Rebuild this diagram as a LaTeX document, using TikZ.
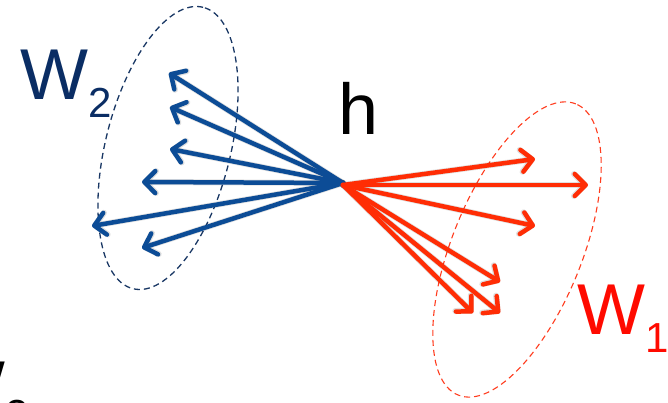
\documentclass[tikz,border=0pt]{standalone}
\usepackage{fontspec}
\setmainfont{Liberation Sans}
\usetikzlibrary{arrows.meta}
\definecolor{bluearrow}{RGB}{12,76,150}
\definecolor{bluetext}{RGB}{10,45,100}
\definecolor{blueell}{RGB}{25,55,100}
\definecolor{redarrow}{RGB}{255,45,5}
\definecolor{redtext}{RGB}{255,10,0}
\definecolor{redell}{RGB}{255,60,30}
\tikzset{
  vec/.style={line width=4.5pt, line cap=round, -{Straight Barb[length=11pt,width=22pt,round]}},
  bvec/.style={vec, draw=bluearrow},
  rvec/.style={vec, draw=redarrow},
  shadowvec/.style={vec, draw=black, opacity=0.12, line width=6pt},
  ell/.style={dashed, dash pattern=on 6pt off 4pt, line width=1.3pt},
  bigtext/.style={inner sep=0pt, font=\fontsize{72}{72}\selectfont},
}
\newcommand{\subsc}[1]{\raisebox{-18pt}{\fontsize{42}{42}\selectfont #1}}
\begin{document}
\begin{tikzpicture}[x=1pt,y=1pt]
\useasboundingbox (0,0) rectangle (668,403);
% ellipses
\draw[ell, draw=blueell, rotate around={76:(168,255)}] (168,255) ellipse [x radius=145, y radius=62.5];
\draw[ell, draw=redell, line width=1.1pt, rotate around={68:(517,153.5)}] (517,153.5) ellipse [x radius=157, y radius=65];
% origins
\coordinate (hb) at (343,220);
\coordinate (hr) at (343,218);
% blue tips
\coordinate (b1) at (169,330);
\coordinate (b2) at (170,296);
\coordinate (b3) at (170,254);
\coordinate (b4) at (142,221);
\coordinate (b5) at (92,177);
\coordinate (b6) at (142,155);
% red tips
\coordinate (r1) at (535,244);
\coordinate (r2) at (588,218);
\coordinate (r3) at (535,177);
\coordinate (r4) at (500,121);
\coordinate (r5) at (500,90);
\coordinate (r6) at (473,90);
% shadows
\begin{scope}[shift={(2,-3)}]
\foreach \t in {b1,b2,b3,b4,b5,b6} \draw[shadowvec] (hb) -- (\t);
\foreach \t in {r1,r2,r3,r4,r5,r6} \draw[shadowvec] (hr) -- (\t);
\end{scope}
% arrows
\foreach \t in {b1,b2,b3,b4,b5,b6} \draw[bvec] (hb) -- (\t);
\foreach \t in {r1,r2,r3,r4,r5,r6} \draw[rvec] (hr) -- (\t);
% labels
\node[bigtext, text=bluetext, anchor=base west] (w2) at (20,303) {W\subsc{2}};
\node[bigtext, text=black, anchor=base west] (h) at (338,268) {h};
\node[bigtext, text=redtext, anchor=base west] (w1) at (577,68) {W\subsc{1}};
\node[bigtext, text=black, anchor=base west] (w0) at (-63,-9) {W\subsc{2}};
\end{tikzpicture}
\end{document}
